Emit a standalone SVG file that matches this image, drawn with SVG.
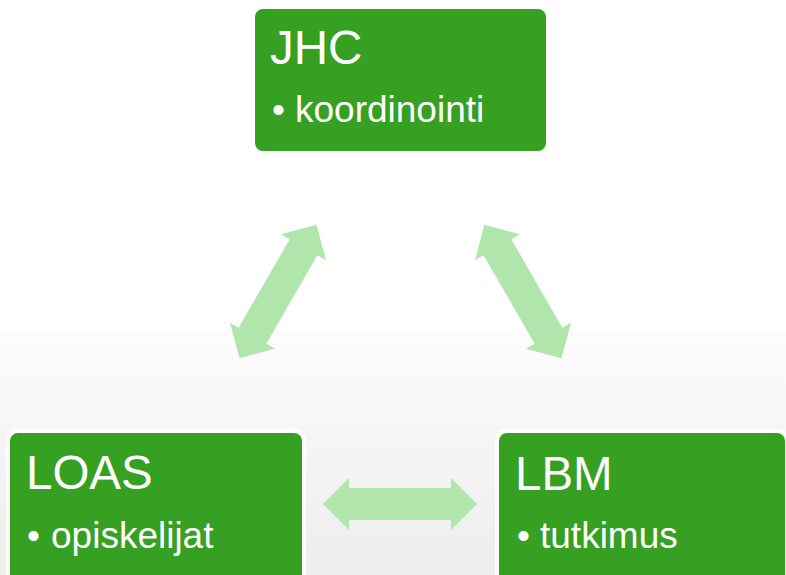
<svg xmlns="http://www.w3.org/2000/svg" width="786" height="575" viewBox="0 0 786 575">
  <defs>
    <linearGradient id="bg" x1="0" y1="0" x2="0" y2="1">
      <stop offset="0" stop-color="#FCFCFC"/>
      <stop offset="1" stop-color="#EDEDED"/>
    </linearGradient>
    <path id="dbl" d="M-77,0 L-51,-26 L-51,-16 L51,-16 L51,-26 L77,0 L51,26 L51,16 L-51,16 L-51,26 Z"/>
  </defs>
  <style>
    .box { fill: #35A022; stroke: #FFFFFF; stroke-width: 4; }
    .title { font-family: "Liberation Sans", Arial, sans-serif; font-size: 47.5px; fill: #FFFFFF; }
    .item { font-family: "Liberation Sans", Arial, sans-serif; font-size: 37px; fill: #FFFFFF; }
    .arrow { fill: #B0E6AC; }
  </style>
  <rect x="0" y="0" width="786" height="575" fill="#FFFFFF"/>
  <rect x="0" y="330" width="786" height="245" fill="url(#bg)"/>

  <g id="connectors">
    <use href="#dbl" class="arrow" transform="translate(400,504)"/>
    <use href="#dbl" class="arrow" transform="translate(278,291.5) rotate(-60)"/>
    <use href="#dbl" class="arrow" transform="translate(523,291.5) rotate(60)"/>
  </g>

  <g id="jhc">
    <rect class="box" x="253" y="7" width="295" height="146" rx="10"/>
    <text class="title" x="270" y="64">JHC</text>
    <text class="item" x="272" y="122">•</text>
    <text class="item" x="295" y="122">koordinointi</text>
  </g>

  <g id="loas">
    <rect class="box" x="8" y="431" width="296" height="160" rx="10"/>
    <text class="title" x="26" y="489">LOAS</text>
    <text class="item" x="27" y="548">•</text>
    <text class="item" x="51" y="548">opiskelijat</text>
  </g>

  <g id="lbm">
    <rect class="box" x="497" y="431" width="290" height="160" rx="10"/>
    <text class="title" x="515" y="490">LBM</text>
    <text class="item" x="517" y="548">•</text>
    <text class="item" x="540" y="548">tutkimus</text>
  </g>
</svg>
